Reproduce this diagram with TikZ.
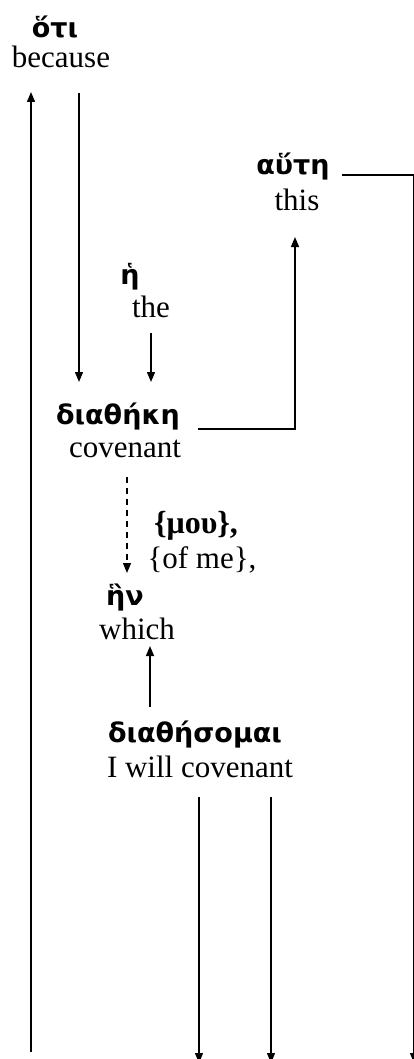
\documentclass[tikz,border=0pt]{standalone}
\usepackage{fontspec}
\setmainfont{Liberation Serif}
\newfontfamily\gkfont{DejaVu Sans}
\usetikzlibrary{arrows.meta}
\begin{document}
\begin{tikzpicture}[x=1pt,y=-1pt,
  en/.style={inner sep=0pt,anchor=center,font=\fontsize{31}{36}\selectfont},
  gr/.style={inner sep=0pt,anchor=center,font=\gkfont\bfseries\fontsize{27}{32}\selectfont},
  grs/.style={inner sep=0pt,anchor=center,font=\bfseries\fontsize{32}{36}\selectfont},
  conn/.style={line width=1.3pt,-{Triangle[length=10pt,width=8pt]}},
  plain/.style={line width=1.3pt},
  dconn/.style={line width=1.3pt,dash pattern=on 6pt off 5pt,-{Triangle[length=10pt,width=8pt]}}]
\useasboundingbox (0,0) rectangle (414,1059);
% words
\node[gr] (oti) at (55,27) {ὅτι};
\node[en] (because) at (61,57) {because};
\node[gr] (aute) at (293,167) {αὕτη};
\node[en] (this) at (297,200) {this};
\node[gr] (he) at (130,277) {ἡ};
\node[en] (the) at (151,307) {the};
\node[gr] (diatheke) at (118,417) {διαθήκη};
\node[en] (covenant) at (125,449) {covenant};
\node[grs] (mou) at (196,526) {\{μου\},};
\node[en] (ofme) at (202,560) {\{of me\},};
\node[gr] (hen) at (125,598) {ἣν};
\node[en] (which) at (137,629) {which};
\node[gr] (diathesomai) at (195,735) {διαθήσομαι};
\node[en] (iwill) at (200,767) {I will covenant};
% connector end points
\coordinate (a1) at (31,1052);
\coordinate (a1e) at (31,92);
\coordinate (b1) at (79,93);
\coordinate (b1e) at (79,382);
\coordinate (c1) at (151,333);
\coordinate (c1e) at (151,382);
\coordinate (d1) at (198,429);
\coordinate (d2) at (295,429);
\coordinate (d1e) at (295,237);
\coordinate (e1) at (342,175);
\coordinate (e2) at (414,175);
\coordinate (e1e) at (414,1063);
\coordinate (f1) at (127,477);
\coordinate (f1e) at (127,573);
\coordinate (g1) at (150,707);
\coordinate (g1e) at (150,646);
\coordinate (h1) at (199,797);
\coordinate (h1e) at (199,1063);
\coordinate (i1) at (271,797);
\coordinate (i1e) at (271,1063);
% connectors
\draw[conn] (a1) -- (a1e);
\draw[conn] (b1) -- (b1e);
\draw[conn] (c1) -- (c1e);
\draw[conn] (d1) -- (d2) -- (d1e);
\draw[conn] (e1) -- (e2) -- (e1e);
\draw[dconn] (f1) -- (f1e);
\draw[conn] (g1) -- (g1e);
\draw[conn] (h1) -- (h1e);
\draw[conn] (i1) -- (i1e);
\end{tikzpicture}
\end{document}
